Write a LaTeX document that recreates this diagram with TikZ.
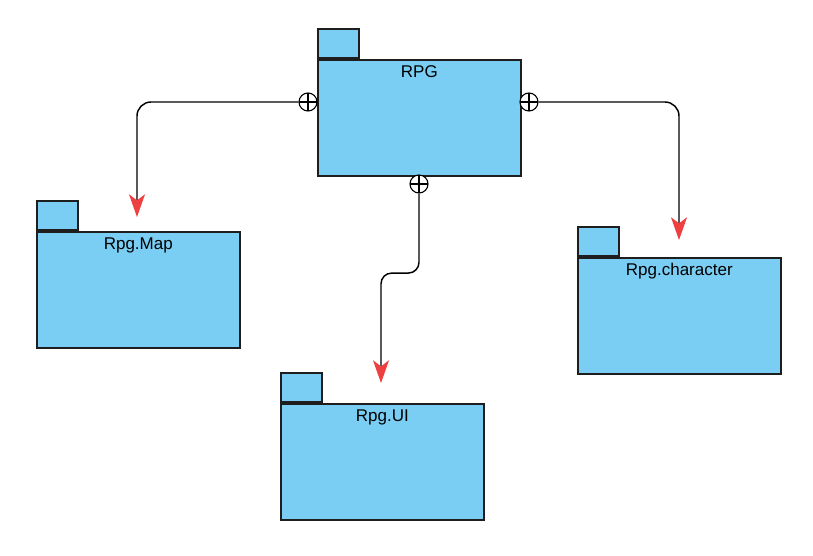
\documentclass[tikz,border=0pt]{standalone}
\usepackage{fontspec}
\setmainfont{Liberation Sans}
\usetikzlibrary{arrows.meta,calc}
\definecolor{pkgblue}{HTML}{7ACEF4}
\definecolor{arrred}{HTML}{EE4040}
\definecolor{edgec}{HTML}{1E1E1E}
\begin{document}
\begin{tikzpicture}[x=0.75pt,y=-0.75pt,
  pkgbody/.style={draw=edgec, fill=pkgblue, line width=1.2pt, minimum width=152.25pt, minimum height=87pt, inner sep=0pt, anchor=north west},
  pkgtab/.style={draw=edgec, fill=pkgblue, line width=1.2pt, minimum width=30.75pt, minimum height=21.75pt, inner sep=0pt, anchor=south west},
  pkglbl/.style={font=\fontsize{12.75pt}{15pt}\selectfont, anchor=base, inner sep=0pt},
  oplus/.style={circle, draw=black, fill=white, line width=0.85pt, minimum size=13.5pt, inner sep=0pt,
    path picture={\draw[line width=0.85pt] (path picture bounding box.north) -- (path picture bounding box.south)
      (path picture bounding box.west) -- (path picture bounding box.east);}},
  conn/.style={draw=black, line width=1.1pt, -{Stealth[length=17pt, width=12pt, inset=4.5pt, color=arrred]}}
]
\useasboundingbox (0,0) rectangle (813,556);

% RPG
\node[pkgtab] (rpgtab) at (317,59) {};
\node[pkgbody] (rpg) at (317,59) {};
\node[pkglbl] (rpglbl) at ($(rpg.north)+(0,18.5)$) {RPG};

% Rpg.Map
\node[pkgtab] (maptab) at (36,231) {};
\node[pkgbody] (map) at (36,231) {};
\node[pkglbl] (maplbl) at ($(map.north)+(0,18.5)$) {Rpg.Map};

% Rpg.UI
\node[pkgtab] (uitab) at (280,403) {};
\node[pkgbody] (ui) at (280,403) {};
\node[pkglbl] (uilbl) at ($(ui.north)+(0,18.5)$) {Rpg.UI};

% Rpg.character
\node[pkgtab] (chartab) at (577,257) {};
\node[pkgbody] (char) at (577,257) {};
\node[pkglbl] (charlbl) at ($(char.north)+(0,18.5)$) {Rpg.character};

% containment symbols (attached to RPG)
\node[oplus] (o1) at (308,102) {};
\node[oplus] (o2) at (529,102) {};
\node[oplus] (o3) at (419,184) {};

% arrow tips
\coordinate (t1) at (137,217);
\coordinate (t2) at (679,240);
\coordinate (t3) at (381,383);

% connectors
\draw[conn, rounded corners=10.5pt] (o1.west) -| (t1);
\draw[conn, rounded corners=10.5pt] (o2.east) -| (t2);
\draw[conn, rounded corners=8pt] (o3.south) -- ++(0,79.5) -| (t3);
\end{tikzpicture}
\end{document}
